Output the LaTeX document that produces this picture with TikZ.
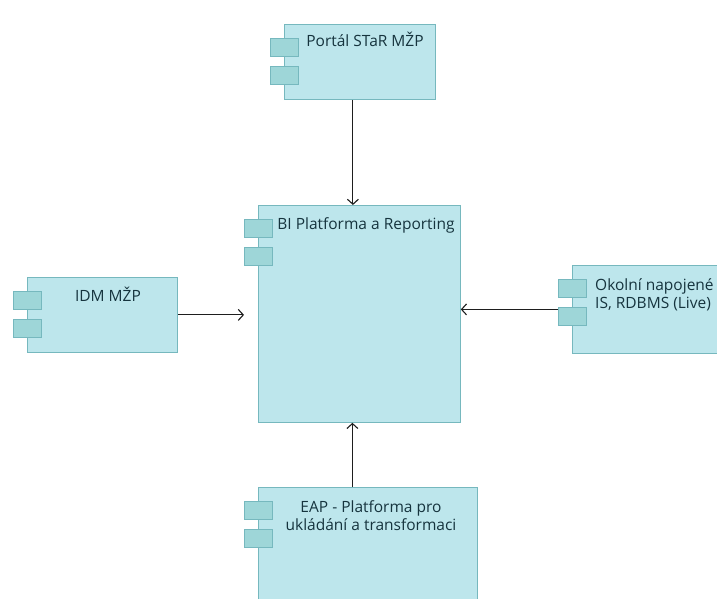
\documentclass[tikz,border=0pt]{standalone}
\usepackage{fontspec}
\setmainfont{Open Sans}
\usetikzlibrary{arrows.meta}
\definecolor{componentfill}{RGB}{189,230,236}
\definecolor{componenttab}{RGB}{158,214,216}
\definecolor{componentline}{RGB}{118,184,190}
\definecolor{componenttext}{RGB}{22,52,62}
\definecolor{componentarrow}{RGB}{30,30,30}

\begin{document}
\begin{tikzpicture}[x=1pt,y=-1pt,font=\fontsize{15.5}{18}\selectfont,
    >={Straight Barb[length=5pt,width=11pt]},
    box/.style={draw=componentline,fill=componentfill,line width=.8pt,
      inner sep=0pt,anchor=north west},
    tab/.style={draw=componentline,fill=componenttab,line width=.8pt},
    boxtext/.style={text=componenttext,inner sep=0pt,anchor=base},
    flow/.style={->,draw=componentarrow,line width=1.1pt}]
    \clip (0,0) rectangle (717,599);

    \node[box,minimum width=151pt,minimum height=75pt] (portal) at (284,24) {};
    \node[box,minimum width=202pt,minimum height=217pt] (bi) at (258,205) {};
    \node[box,minimum width=150pt,minimum height=75pt] (idm) at (27,277) {};
    \node[box,minimum width=150pt,minimum height=88pt] (okolni) at (572,265) {};
    \node[box,minimum width=219pt,minimum height=124pt] (eap) at (258,487) {};
    \foreach \n in {portal,bi,idm,okolni,eap} {
      \draw[tab] ([shift={(-14,14)}]\n.north west) rectangle ++(28,18);
      \draw[tab] ([shift={(-14,42)}]\n.north west) rectangle ++(28,18);
    }

    \node[boxtext] (portaltext) at (365,47) {Portál STaR MŽP};
    \node[boxtext] (bitext) at (366,229) {BI Platforma a Reporting};
    \node[boxtext] (idmtext) at (108,301) {IDM MŽP};
    \node[boxtext,anchor=base west,align=left] (okolnitext) at (595,308)
      {Okolní napojené\\IS, RDBMS (Live)};
    \node[boxtext,align=center] (eaptext) at (371,530)
      {EAP - Platforma pro\\ukládání a transformaci};

    \draw[flow] ([xshift=-7pt]portal.south) -- ([xshift=-7pt]portal.south |- bi.north);
    \draw[flow] (idm.east) -- ([xshift=-14pt]bi.west |- idm.east);
    \draw[flow] ([xshift=-14pt]okolni.west) -- (bi.east |- okolni.west);
    \draw[flow] ([xshift=-7pt]bi.south |- eap.north) -- ([xshift=-7pt]bi.south);
  \end{tikzpicture}
\end{document}
